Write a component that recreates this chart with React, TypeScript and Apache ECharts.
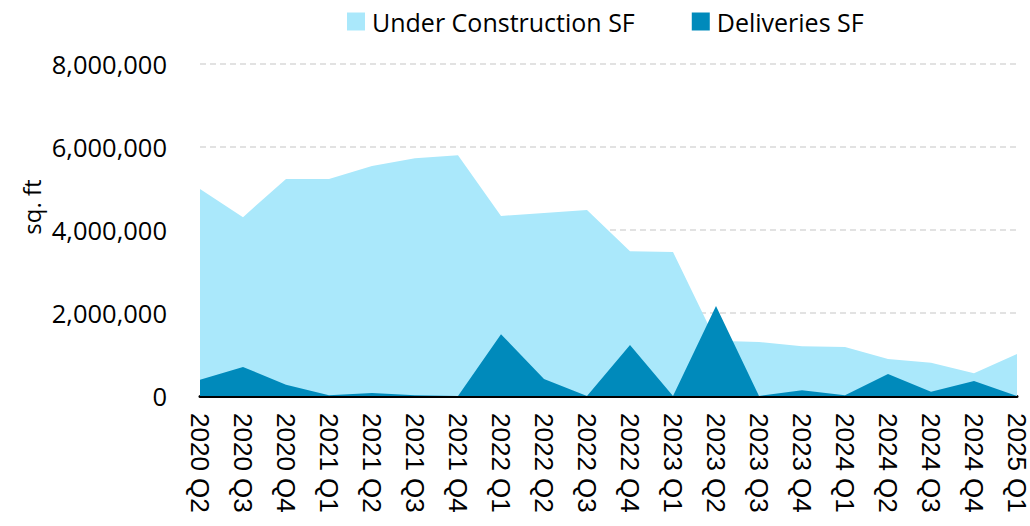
import React, { useEffect, useRef } from "react";
import * as echarts from "echarts";

const categories = [
  "2020 Q2", "2020 Q3", "2020 Q4", "2021 Q1", "2021 Q2", "2021 Q3", "2021 Q4",
  "2022 Q1", "2022 Q2", "2022 Q3", "2022 Q4", "2023 Q1", "2023 Q2", "2023 Q3",
  "2023 Q4", "2024 Q1", "2024 Q2", "2024 Q3", "2024 Q4", "2025 Q1",
];

const underConstruction = [
  4990000, 4310000, 5230000, 5230000, 5540000, 5730000, 5800000,
  4340000, 4410000, 4480000, 3490000, 3470000, 1330000, 1300000,
  1200000, 1180000, 890000, 800000, 550000, 1010000,
];

const deliveries = [
  390000, 700000, 270000, 20000, 70000, 20000, 0,
  1490000, 410000, 0, 1230000, 0, 2170000, 0,
  140000, 20000, 530000, 100000, 360000, 0,
];

const yTicks = { min: 0, max: 8000000, interval: 2000000 };

export default function App() {
  const ref = useRef<HTMLDivElement>(null);
  useEffect(() => {
    if (!ref.current) return;
    const chart = echarts.init(ref.current, undefined, { renderer: "svg" });
    chart.setOption({
      animation: false,
      backgroundColor: "#ffffff",
      legend: {
        top: 4,
        left: 342,
        itemWidth: 18,
        itemHeight: 18,
        itemGap: 57,
        icon: "rect",
        textStyle: { fontFamily: "Open Sans", fontSize: 25, color: "#000", padding: [0, 0, 0, 2] },
        data: ["Under Construction SF", "Deliveries SF"],
      },
      grid: { left: 200, right: 13, top: 64, bottom: 130 },
      xAxis: {
        type: "category",
        data: categories,
        boundaryGap: false,
        axisLine: { lineStyle: { color: "#000", width: 3 } },
        axisTick: { show: false },
        axisLabel: {
          rotate: -90,
          interval: 0,
          margin: 17,
          fontFamily: "Liberation Sans",
          fontSize: 26,
          color: "#000",
        },
      },
      yAxis: {
        type: "value",
        min: yTicks.min,
        max: yTicks.max,
        interval: yTicks.interval,
        axisLine: { show: false },
        axisTick: { show: false },
        splitLine: { lineStyle: { color: "#d9d9d9", type: [6, 4], width: 1.5 } },
        axisLabel: {
          margin: 33,
          fontFamily: "Open Sans",
          fontSize: 25.5,
          color: "#000",
          formatter: (v: number) => v.toLocaleString("en-US"),
        },
      },
      graphic: [
        {
          type: "text",
          x: 31,
          y: 207,
          rotation: Math.PI / 2,
          style: {
            text: "sq. ft",
            fontFamily: "Open Sans",
            fontSize: 24,
            fill: "#000",
            align: "center",
            verticalAlign: "middle",
          },
        },
      ],
      series: [
        {
          name: "Under Construction SF",
          type: "line",
          data: underConstruction,
          symbol: "none",
          lineStyle: { width: 0 },
          itemStyle: { color: "#aae8fb" },
          areaStyle: { color: "#aae8fb", opacity: 1 },
          z: 1,
        },
        {
          name: "Deliveries SF",
          type: "line",
          data: deliveries,
          symbol: "none",
          lineStyle: { width: 0 },
          itemStyle: { color: "#008abb" },
          areaStyle: { color: "#008abb", opacity: 1 },
          z: 2,
        },
      ],
    });
    return () => chart.dispose();
  }, []);
  return <div ref={ref} style={{ width: 1030, height: 526, position: "absolute", left: 0, top: 0 }} />;
}
